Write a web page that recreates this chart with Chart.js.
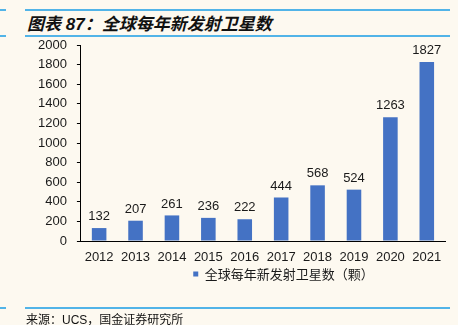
<!DOCTYPE html>
<html>
<head>
<meta charset="utf-8">
<script src="https://cdn.jsdelivr.net/npm/chart.js@4/dist/chart.umd.min.js"></script>
<style>
  html, body { margin: 0; padding: 0; width: 458px; height: 325px; overflow: hidden; background: #fdf9f0; }
  .wrap { position: relative; width: 458px; height: 325px; }
  #chart { position: absolute; left: 0; top: 0; }
  .rule { position: absolute; height: 2px; background: #52b4e8; }
  .title { position: absolute; left: 27px; top: 10px; font: italic bold 17px "Liberation Sans", "Noto Sans CJK SC", sans-serif; color: #111; white-space: nowrap; }
  .source { position: absolute; left: 26px; top: 310px; font: 12px "Liberation Sans", "Noto Sans CJK SC", sans-serif; color: #111; white-space: nowrap; }
</style>
</head>
<body>
<div class="wrap">
  <div class="rule" style="left:0;width:6px;top:9px"></div>
  <div class="rule" style="left:25px;width:425px;top:9px"></div>
  <div class="title">图表 87：全球每年新发射卫星数</div>
  <div class="rule" style="left:0;width:6px;top:35px"></div>
  <div class="rule" style="left:25px;width:425px;top:35px"></div>
  <canvas id="chart" width="458" height="325"></canvas>
  <div class="rule" style="left:0;width:6px;top:307px"></div>
  <div class="rule" style="left:25px;width:425px;top:307px"></div>
  <div class="source">来源：UCS，国金证券研究所</div>
</div>
<script>
const years = ['2012', '2013', '2014', '2015', '2016', '2017', '2018', '2019', '2020', '2021'];
const launches = [132, 207, 261, 236, 222, 444, 568, 524, 1263, 1827];
const seriesName = '全球每年新发射卫星数（颗）';
const barColor = '#4472c4';

Chart.defaults.font.family = '"Liberation Sans", Arial, sans-serif';
Chart.defaults.font.size = 13;
Chart.defaults.color = '#1a1a1a';

// numbers above each bar
const valueLabels = {
  id: 'valueLabels',
  afterDatasetsDraw(chart) {
    const ctx = chart.ctx;
    const meta = chart.getDatasetMeta(0);
    ctx.save();
    ctx.font = '13px "Liberation Sans", Arial, sans-serif';
    ctx.fillStyle = '#1a1a1a';
    ctx.textAlign = 'center';
    ctx.textBaseline = 'bottom';
    meta.data.forEach((bar, i) => {
      ctx.fillText(String(launches[i]), bar.x, bar.y - 5);
    });
    ctx.restore();
  }
};

// the legend sits a bit right of centre and tight under the axis labels
const legendOffset = {
  id: 'legendOffset',
  afterLayout(chart) {
    const lg = chart.legend;
    const dx = 47, dy = -5.5;
    lg.left += dx; lg.right += dx;
    lg.top += dy; lg.bottom += dy;
  }
};

new Chart(document.getElementById('chart'), {
  type: 'bar',
  data: {
    labels: years,
    datasets: [{
      label: seriesName,
      data: launches,
      backgroundColor: barColor,
      borderWidth: 0,
      categoryPercentage: 1,
      barPercentage: 0.4
    }]
  },
  options: {
    responsive: false,
    animation: false,
    layout: { padding: { left: 28, right: 13, top: 45, bottom: 29 } },
    scales: {
      x: {
        grid: { display: false, drawTicks: false },
        border: { color: '#000', width: 1 },
        ticks: { padding: 9.5, color: '#1a1a1a', font: { lineHeight: 1 } }
      },
      y: {
        min: 0,
        max: 2000,
        ticks: {
          stepSize: 200,
          autoSkip: false,
          padding: 10,
          color: '#1a1a1a',
          callback: (v) => String(v)
        },
        grid: { drawOnChartArea: false, tickLength: 4, color: '#000' },
        border: { color: '#000', width: 1 }
      }
    },
    plugins: {
      legend: {
        position: 'bottom',
        labels: {
          boxWidth: 5,
          boxHeight: 5,
          padding: 0,
          color: '#1a1a1a',
          font: { family: '"Noto Sans CJK SC", sans-serif', size: 13, lineHeight: 1 }
        }
      },
      tooltip: { enabled: false }
    }
  },
  plugins: [valueLabels, legendOffset]
});
</script>
</body>
</html>
